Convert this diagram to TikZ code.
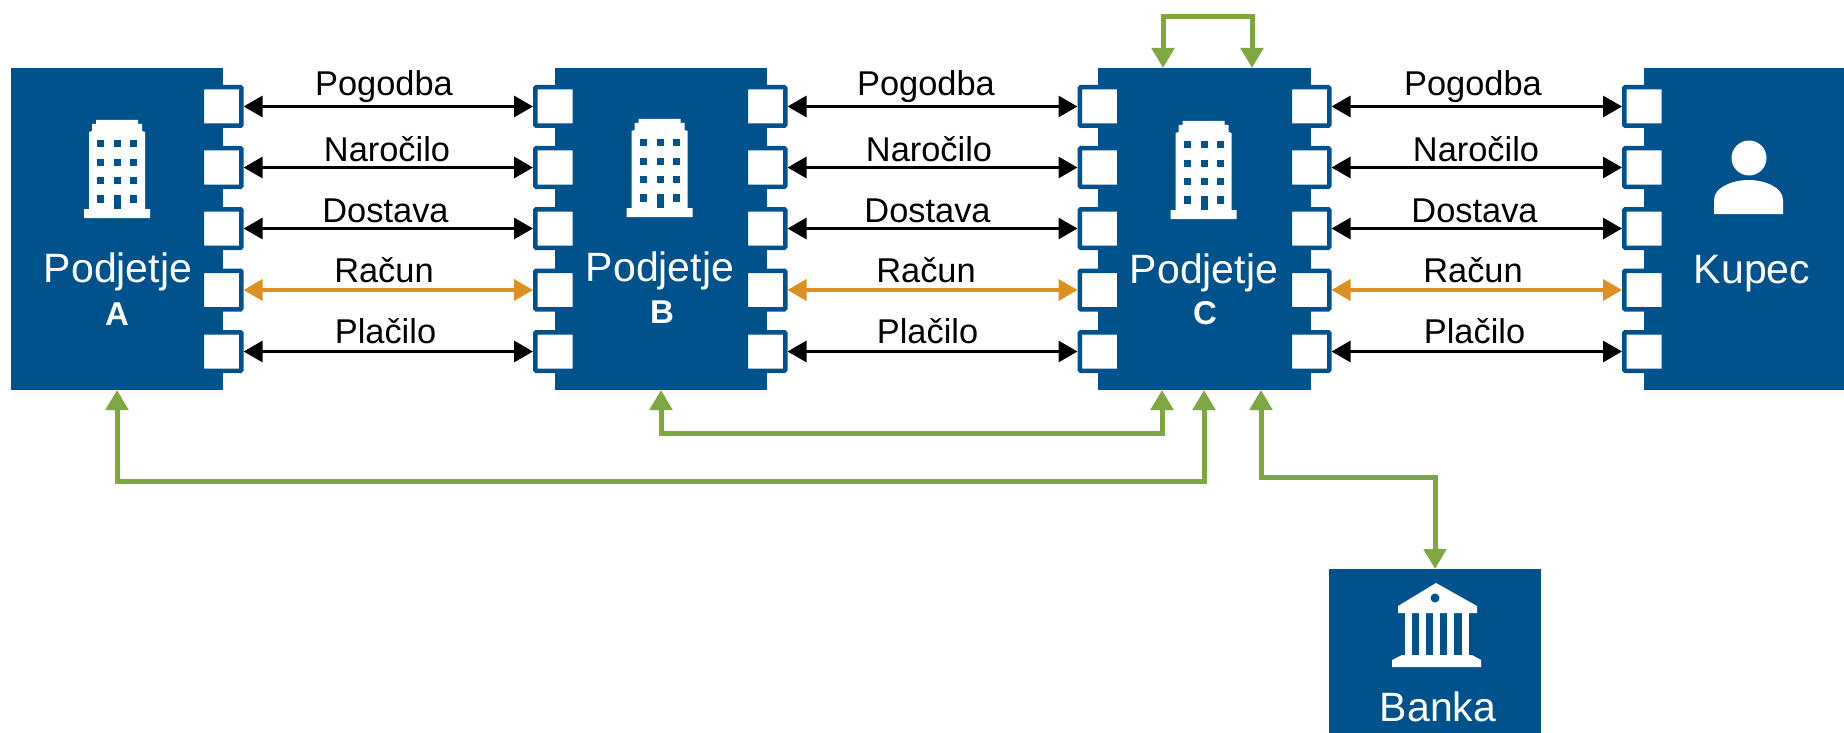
\documentclass[tikz,border=0pt]{standalone}
\usepackage{fontspec}
\setmainfont{Liberation Sans}
\usetikzlibrary{arrows.meta}
\definecolor{boxblue}{HTML}{00528C}
\definecolor{flowgreen}{HTML}{7EA641}
\definecolor{floworange}{HTML}{DD8F1F}
\tikzset{
  party/.style={fill=boxblue,draw=none,inner sep=0pt,outer sep=0pt,anchor=north west},
  porttab/.style={fill=white,draw=boxblue,line width=4.5pt,inner sep=0pt,outer sep=2.25pt,minimum width=39.5pt,minimum height=38.5pt,rounded corners=1pt},
  twoway/.style={line width=3pt,black,{Triangle[length=19pt,width=21pt]}-{Triangle[length=19pt,width=21pt]}},
  twowayo/.style={twoway,floworange,line width=3.6pt},
  greenflow/.style={line width=5pt,flowgreen,line join=miter},
  greenboth/.style={greenflow,{Triangle[length=20pt,width=22pt]}-{Triangle[length=20pt,width=22pt]}},
  greenend/.style={greenflow,-{Triangle[length=20pt,width=22pt]}},
  lab/.style={anchor=base,font=\fontsize{34.4pt}{36pt}\selectfont,black,inner sep=0pt},
  big/.style={anchor=base,font=\fontsize{41pt}{44pt}\selectfont,white,inner sep=0pt},
  bigb/.style={anchor=base,font=\fontsize{33pt}{34pt}\selectfont\bfseries,white,inner sep=0pt}
}
\newcommand{\buildingicon}[2]{%
 \begin{scope}[shift={(#1-117,#2-120)}]
  \fill[white] (84,218) -- (84,209) -- (89,209) -- (89,132) -- (92,131) -- (92,124) -- (96,124) -- (96,120) -- (138,120) -- (138,124) -- (142,124) -- (142,131) -- (145,132) -- (145,209) -- (150,209) -- (150,218) -- cycle;
  \foreach \wx in {97,114,130}{\foreach \wy in {140,159,177}{\fill[boxblue] (\wx,\wy) rectangle ++(7,7);}}
  \fill[boxblue] (97,195) rectangle ++(7,8);
  \fill[boxblue] (130,195) rectangle ++(7,8);
  \fill[boxblue] (114,195) rectangle ++(7,14);
 \end{scope}}
\begin{document}
\begin{tikzpicture}[x=1pt,y=-1pt]
\useasboundingbox (0,0) rectangle (1844,733);
% parties
\node[party,minimum width=212pt,minimum height=322pt] (abox) at (11,68) {};
\node[party,minimum width=212pt,minimum height=322pt] (bbox) at (555,68) {};
\node[party,minimum width=213pt,minimum height=322pt] (cbox) at (1098,68) {};
\node[party,minimum width=200pt,minimum height=322pt] (kbox) at (1644,68) {};
\node[party,minimum width=212pt,minimum height=164pt] (bank) at (1329,569) {};
% ports
\foreach \n/\y in {1/106.5,2/167.5,3/228.5,4/290,5/351.5}{
  \node[porttab] (ar\n) at (221.6,\y) {};
  \node[porttab] (bl\n) at (555,\y) {};
  \node[porttab] (br\n) at (765.5,\y) {};
  \node[porttab] (cl\n) at (1099.5,\y) {};
  \node[porttab] (cr\n) at (1309.5,\y) {};
  \node[porttab] (kl\n) at (1644,\y) {};
}
% flows
\foreach \l/\r in {ar/bl,br/cl,cr/kl}{
  \draw[twoway] (\l1) -- (\r1);
  \draw[twoway] (\l2) -- (\r2);
  \draw[twoway] (\l3) -- (\r3);
  \draw[twowayo] (\l4) -- (\r4);
  \draw[twoway] (\l5) -- (\r5);
}
% labels
\foreach \cx in {384,926,1473}{
  \node[lab] (p\cx) at (\cx,96) {Pogodba};
  \node[lab] (n\cx) at (\cx+3,161) {Naročilo};
  \node[lab] (d\cx) at (\cx+1.5,222) {Dostava};
  \node[lab] (r\cx) at (\cx,282) {Račun};
  \node[lab] (q\cx) at (\cx+1.5,343) {Plačilo};
}
% green
\coordinate (cin1) at (1163,68);
\coordinate (cin2) at (1252,68);
\coordinate (cb1) at (1162,390);
\coordinate (cb2) at (1204,390);
\coordinate (cb3) at (1261,390);
\coordinate (bs) at (661,390);
\coordinate (as) at (117,390);
\coordinate (bt) at (1435,569);
\draw[greenend] (1163,17) -- (cin1);
\draw[greenend] (1252,17) -- (cin2);
\draw[greenflow,line cap=rect] (1163,17) -- (1252,17);
\draw[greenboth] (bs) -- (661,433) -| (cb1);
\draw[greenboth] (as) -- (117,481) -| (cb2);
\draw[greenboth] (cb3) -- (1261,477) -| (bt);
% icons
\buildingicon{117}{120}
\buildingicon{659.5}{119}
\buildingicon{1203.6}{121}
\fill[white] (1749,158) circle (17.5);
\fill[white] (1714,214) -- (1714,200) .. controls (1714,187) and (1733,180) .. (1748.5,180) .. controls (1764,180) and (1783,187) .. (1783,200) -- (1783,214) -- cycle;
% bank icon
\fill[white] (1436,583) -- (1477,606) -- (1477,613) -- (1398,613) -- (1398,606) -- cycle;
\fill[boxblue] (1435,598) circle (4.5);
\foreach \cx in {1405,1419,1433,1447,1462}{\fill[white] (\cx,613) rectangle ++(7,43);}
\fill[white] (1392,667) -- (1392,660) -- (1402,655) -- (1472,655) -- (1481,660) -- (1481,667) -- cycle;
% text
\node[big] (ta) at (118,282) {Podjetje};
\node[bigb] (ta2) at (117,325) {A};
\node[big] (tb) at (660,281) {Podjetje};
\node[bigb] (tb2) at (662,323) {B};
\node[big] (tc) at (1204,283) {Podjetje};
\node[bigb] (tc2) at (1205,324) {C};
\node[big] (tk) at (1752,283) {Kupec};
\node[big] (tbk) at (1438,721) {Banka};
\end{tikzpicture}
\end{document}
